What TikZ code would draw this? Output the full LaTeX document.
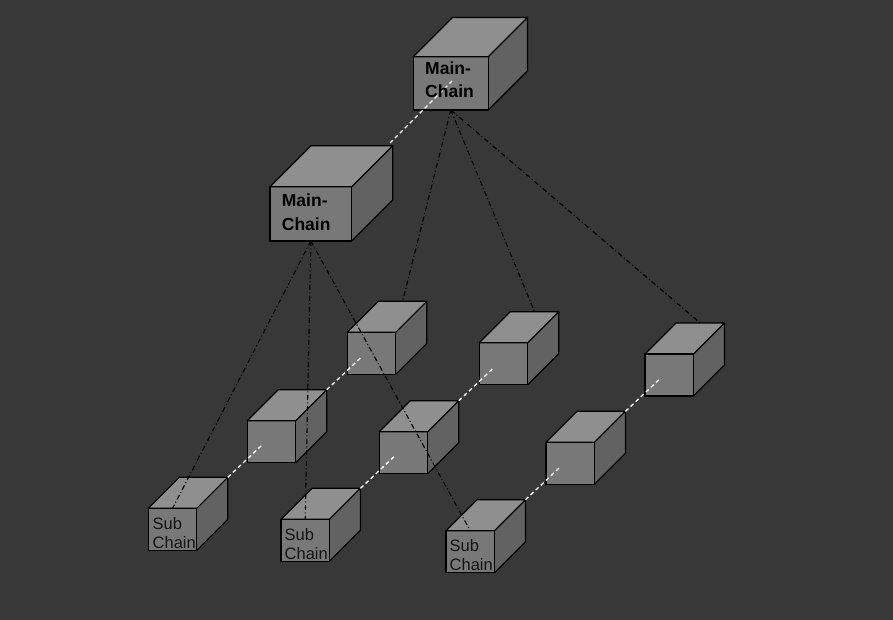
\documentclass[tikz,border=0pt]{standalone}
\usepackage{fontspec}
\setmainfont{Liberation Sans}
\begin{document}
\definecolor{bgcol}{HTML}{383838}
\definecolor{topcol}{HTML}{8F8F8F}
\definecolor{frontcol}{HTML}{787878}
\definecolor{sidecol}{HTML}{626262}
\definecolor{labelcol}{HTML}{141414}
\tikzset{
  edge/.style={draw=black, line width=1.2pt, line join=round},
  chainlink/.style={draw=white, line width=1.3pt, dash pattern=on 4pt off 3pt},
  parentlink/.style={draw=black, line width=1.1pt, dash pattern=on 5pt off 2.5pt on 1pt off 2.5pt},
  mainlabel/.style={font=\bfseries\fontsize{17.5}{20}\selectfont, text=black, anchor=base west, inner sep=0pt},
  sublabel/.style={font=\fontsize{16.5}{19}\selectfont, text=labelcol, anchor=base west, inner sep=0pt}
}
% \boxcube{name}{x}{y}{width}{height}{depth}: front face top-left at (x,y)
\newcommand\boxcube[6]{%
  \fill[topcol] (#2,#3) -- ++(#6,-#6) -- ++(#4,0) -- ++(-#6,#6) -- cycle;
  \fill[sidecol] ({#2+#4},#3) -- ++(#6,-#6) -- ++(0,#5) -- ++(-#6,#6) -- cycle;
  \fill[frontcol] (#2,#3) rectangle ({#2+#4},{#3+#5});
  \draw[edge] (#2,#3) -- ++(#6,-#6) -- ++(#4,0) -- ++(-#6,#6) -- cycle;
  \draw[edge] ({#2+#4+#6},{#3-#6}) -- ++(0,#5) -- ++(-#6,#6);
  \draw[edge] (#2,#3) rectangle ({#2+#4},{#3+#5});
  \coordinate (#1-fn) at ({#2+#4/2},#3);
  \coordinate (#1-fs) at ({#2+#4/2},{#3+#5});
  \coordinate (#1-bn) at ({#2+#6+#4/2},{#3-#6});
  \coordinate (#1-bc) at ({#2+#4+#6},{#3-#6});
  \coordinate (#1-w) at ({#2+#4+#6+35},{#3-#6-33});
}
\begin{tikzpicture}[x=1pt,y=-1pt]
  \useasboundingbox (0,0) rectangle (893,620);
  \fill[bgcol] (0,0) rectangle (893,620);

  % sub-chain cubes, rows from back to front
  \boxcube{s11}{347.3}{332.3}{48.5}{42}{31}
  \boxcube{s21}{479.3}{342.7}{48.5}{42}{31}
  \boxcube{s31}{645}{354}{48.5}{42}{31}
  \boxcube{s12}{247.3}{420.7}{48.5}{42}{31}
  \boxcube{s22}{379.3}{431.7}{48.5}{42}{31}
  \boxcube{s32}{546}{442.3}{48.5}{42}{31}
  \boxcube{s13}{148.3}{508.3}{48.5}{42}{31}
  \boxcube{s23}{281}{519.3}{48.5}{42}{31}
  \boxcube{s33}{446}{530.7}{48.5}{42}{31}

  % main-chain cubes
  \boxcube{m1}{413.3}{56.7}{75}{53.3}{39.2}
  \boxcube{m2}{270}{186.7}{81.7}{54.3}{41}
  \coordinate (m2-top) at (390,143);
  \coordinate (m2-free) at (452,81);

  % links along each chain
  \draw[chainlink] (m2-top) -- (m2-free);
  \draw[chainlink] (s12-bc) -- (s12-w);
  \draw[chainlink] (s13-bc) -- (s13-w);
  \draw[chainlink] (s22-bc) -- (s22-w);
  \draw[chainlink] (s23-bc) -- (s23-w);
  \draw[chainlink] (s32-bc) -- (s32-w);
  \draw[chainlink] (s33-bc) -- (s33-w);

  % labels
  \node[mainlabel] (m1a) at (425,75) {Main-};
  \node[mainlabel] (m1b) at (425,97.3) {Chain};
  \node[mainlabel] (m2a) at (281.7,206.7) {Main-};
  \node[mainlabel] (m2b) at (281.7,230) {Chain};
  \node[sublabel] (s13a) at (152.5,529.5) {Sub};
  \node[sublabel] (s13b) at (152.5,548.3) {Chain};
  \node[sublabel] (s23a) at (284.5,540.3) {Sub};
  \node[sublabel] (s23b) at (284.5,559.5) {Chain};
  \node[sublabel] (s33a) at (449.5,551) {Sub};
  \node[sublabel] (s33b) at (449.5,570.5) {Chain};

  % links from the main chain down to the sub-chains
  \draw[parentlink] (m1-fs) -- (s11-bn);
  \draw[parentlink] (m1-fs) -- (s21-bn);
  \draw[parentlink] (m1-fs) -- (s31-bn);
  \draw[parentlink] (m2-fs) -- (s13-fn);
  \draw[parentlink] (m2-fs) -- (s23-fn);
  \draw[parentlink] (m2-fs) -- (s33-fn);
\end{tikzpicture}
\end{document}
